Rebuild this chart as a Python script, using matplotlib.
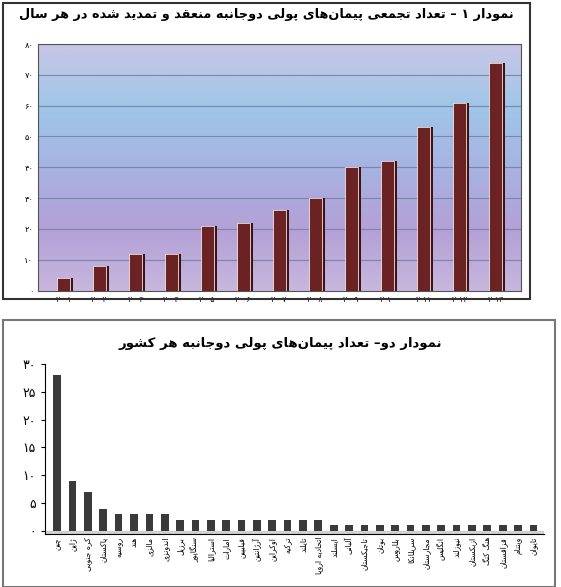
import numpy as np
import matplotlib.pyplot as plt
from matplotlib.colors import LinearSegmentedColormap
from matplotlib.patches import Rectangle

plt.rcParams['font.family'] = ['DejaVu Sans']

# --- data ---
years = ["۲۰۰۱", "۲۰۰۲", "۲۰۰۳", "۲۰۰۴", "۲۰۰۵", "۲۰۰۶", "۲۰۰۷",
         "۲۰۰۸", "۲۰۰۹", "۲۰۱۰", "۲۰۱۱", "۲۰۱۲", "۲۰۱۳"]
cumulative = [4, 8, 12, 12, 21, 22, 26, 30, 40, 42, 53, 61, 74]
top_ticks = [0, 10, 20, 30, 40, 50, 60, 70, 80]
top_tick_labels = ["۰", "۱۰", "۲۰", "۳۰", "۴۰", "۵۰", "۶۰", "۷۰", "۸۰"]

countries = ["چین", "ژاپن", "کره جنوبی", "پاکستان", "روسیه", "هند", "مالزی",
             "اندونزی", "برزیل", "سنگاپور", "استرالیا", "امارات", "فیلیپین",
             "آرژانتین", "اوکراین", "ترکیه", "تایلند", "اتحادیه اروپا",
             "ایسلند", "آلبانی", "تاجیکستان", "بوتان", "بلاروس", "سریلانکا",
             "مجارستان", "انگلیس", "نیوزلند", "ازبکستان", "هنگ کنگ",
             "قزاقستان", "ویتنام", "تایوان"]
per_country = [28, 9, 7, 4, 3, 3, 3, 3, 2, 2, 2, 2, 2, 2, 2, 2, 2, 2,
               1, 1, 1, 1, 1, 1, 1, 1, 1, 1, 1, 1, 1, 1]
bot_ticks = [0, 5, 10, 15, 20, 25, 30]
bot_tick_labels = ["۰", "۵", "۱۰", "۱۵", "۲۰", "۲۵", "۳۰"]

title1 = "نمودار ۱ – تعداد تجمعی پیمان‌های پولی دوجانبه منعقد و تمدید شده در هر سال"
title2 = "نمودار دو– تعداد پیمان‌های پولی دوجانبه هر کشور"

# --- minimal Persian shaping (no arabic_reshaper available) ---
FOUR = {'ب': 0xFE8F, 'پ': 0xFB56, 'ت': 0xFE95, 'ث': 0xFE99, 'ج': 0xFE9D,
        'چ': 0xFB7A, 'ح': 0xFEA1, 'خ': 0xFEA5, 'س': 0xFEB1, 'ش': 0xFEB5,
        'ص': 0xFEB9, 'ض': 0xFEBD, 'ط': 0xFEC1, 'ظ': 0xFEC5, 'ع': 0xFEC9,
        'غ': 0xFECD, 'ف': 0xFED1, 'ق': 0xFED5, 'ک': 0xFB8E, 'گ': 0xFB92,
        'ل': 0xFEDD, 'م': 0xFEE1, 'ن': 0xFEE5, 'ه': 0xFEE9, 'ی': 0xFBFC,
        'ئ': 0xFE89}
TWO = {'ا': 0xFE8D, 'آ': 0xFE81, 'د': 0xFEA9, 'ذ': 0xFEAB, 'ر': 0xFEAD,
       'ز': 0xFEAF, 'ژ': 0xFB8A, 'و': 0xFEED}


def shape(s):
    out = []
    for i, c in enumerate(s):
        if c == '\u200c':
            continue
        prev = s[i - 1] if i > 0 else ''
        nxt = s[i + 1] if i + 1 < len(s) else ''
        jp = prev in FOUR
        jn = c in FOUR and (nxt in FOUR or nxt in TWO)
        if c in FOUR:
            b = FOUR[c]
            out.append(chr(b + (3 if jp and jn else 2 if jn else 1 if jp else 0)))
        elif c in TWO:
            out.append(chr(TWO[c] + (1 if jp else 0)))
        else:
            out.append(c)
    return ''.join(out[::-1])


fig = plt.figure(figsize=(5.61, 5.87), dpi=100)
fig.patch.set_facecolor('white')

# panel frames
fig.add_artist(Rectangle((0.005, 0.49), 0.94, 0.505, transform=fig.transFigure,
                         fill=False, lw=1.5, ec='#333333'))
fig.add_artist(Rectangle((0.005, 0.0), 0.985, 0.455, transform=fig.transFigure,
                         fill=False, lw=1.5, ec='#777777'))

# --- top chart ---
fig.text(0.475, 0.975, shape(title1), ha='center', va='center',
         fontsize=9.3, fontweight='bold')
ax1 = fig.add_axes([0.068, 0.505, 0.86, 0.42])
bg = LinearSegmentedColormap.from_list('bg', ['#c9c6e6', '#9fc6e8', '#a7b3e2',
                                              '#b3a0d6', '#c7b7de'])
grad = np.linspace(0, 1, 256).reshape(-1, 1)
ax1.imshow(grad, cmap=bg, aspect='auto', extent=[-0.7, 12.7, 0, 80],
           origin='upper', zorder=0)
for t in top_ticks[1:]:
    ax1.axhline(t, color='#7a86a8', lw=0.8, zorder=1)
x1 = np.arange(len(years))
ax1.bar(x1 + 0.08, cumulative, width=0.38, color='#3e1212', zorder=2)
ax1.bar(x1, cumulative, width=0.38, color='#6b2222', ec='#f0e6e6', lw=0.6, zorder=3)
ax1.set_xlim(-0.7, 12.7)
ax1.set_ylim(0, 80)
ax1.set_yticks(top_ticks)
ax1.set_yticklabels(top_tick_labels, fontsize=6)
ax1.set_xticks(x1)
ax1.set_xticklabels(years, fontsize=5.5)
ax1.tick_params(length=0)
for s in ax1.spines.values():
    s.set_color('#555555')

# --- bottom chart ---
fig.text(0.5, 0.415, shape(title2), ha='center', va='center',
         fontsize=9.5, fontweight='bold')
ax2 = fig.add_axes([0.08, 0.09, 0.89, 0.29])
x2 = np.arange(len(countries))
ax2.bar(x2, per_country, width=0.5, color='#3a3a3a', zorder=3)
ax2.axhspan(-0.6, 0, color='#d0d0d0', zorder=1)
ax2.set_xlim(-0.8, len(countries) - 0.3)
ax2.set_ylim(-0.6, 30)
ax2.set_yticks(bot_ticks)
ax2.set_yticklabels(bot_tick_labels, fontsize=9)
ax2.set_xticks(x2)
ax2.set_xticklabels([shape(c) for c in countries], rotation=90, fontsize=5.5)
ax2.tick_params(axis='x', length=0, pad=2)
ax2.tick_params(axis='y', length=3)
for k in ['top', 'right']:
    ax2.spines[k].set_visible(False)

fig.savefig('out.png', dpi=100)
